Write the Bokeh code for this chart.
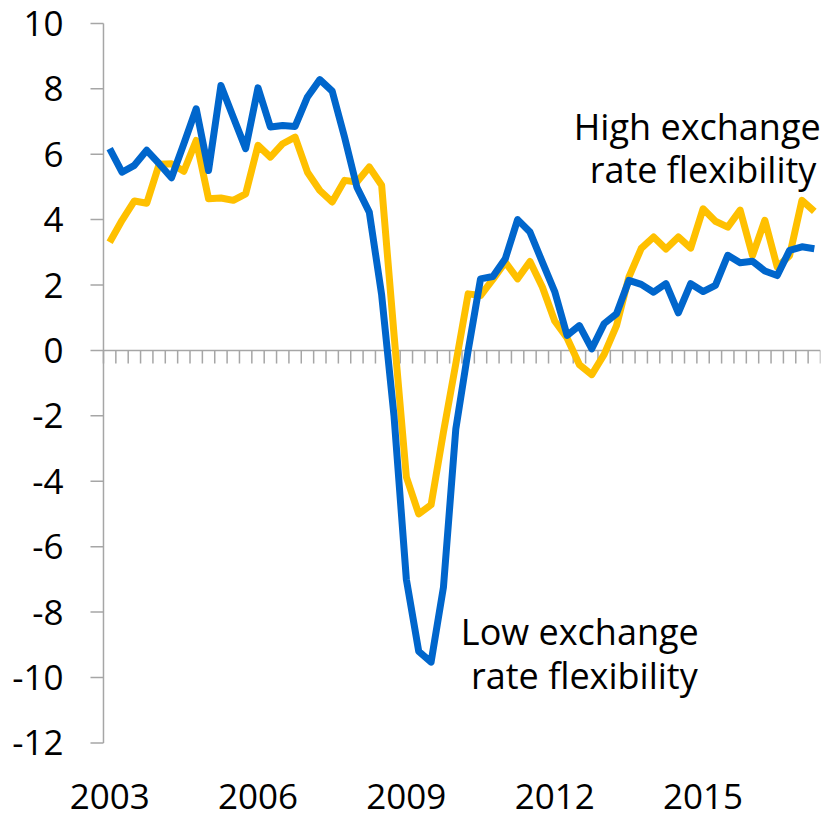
from bokeh.plotting import figure
from bokeh.models import Range1d, Label
from bokeh.core.properties import value
from bokeh.embed import file_html
from bokeh.resources import INLINE

# ---- data -------------------------------------------------------------
quarters = [f"{y}Q{q}" for y in range(2003, 2018) for q in range(1, 5)][:58]
year_labels = ["2003", "2006", "2009", "2012", "2015"]

low_flex = [6.17, 5.45, 5.66, 6.12, 5.71, 5.28, 6.32, 7.39, 5.50, 8.10,
            7.13, 6.17, 8.03, 6.83, 6.88, 6.85, 7.75, 8.28, 7.93, 6.52,
            4.99, 4.23, 1.70, -2.00, -7.00, -9.20, -9.53, -7.24, -2.40, 0.00,
            2.19, 2.26, 2.80, 4.00, 3.62, 2.70, 1.80, 0.46, 0.76, 0.05,
            0.82, 1.12, 2.14, 2.02, 1.78, 2.04, 1.15, 2.04, 1.80, 1.99,
            2.91, 2.68, 2.73, 2.43, 2.29, 3.06, 3.17, 3.11]

high_flex = [3.31, 3.98, 4.57, 4.50, 5.69, 5.71, 5.48, 6.42, 4.64, 4.66,
             4.59, 4.79, 6.27, 5.91, 6.32, 6.52, 5.45, 4.89, 4.54, 5.20,
             5.15, 5.61, 5.05, 0.50, -3.87, -5.00, -4.72, -2.50, -0.40, 1.73,
             1.68, 2.17, 2.70, 2.19, 2.72, 1.94, 0.90, 0.38, -0.44, -0.74,
             -0.12, 0.76, 2.24, 3.12, 3.47, 3.10, 3.47, 3.13, 4.33, 3.95,
             3.77, 4.29, 2.90, 3.98, 2.55, 2.90, 4.59, 4.25]

y_ticks = [-12, -10, -8, -6, -4, -2, 0, 2, 4, 6, 8, 10]

# ---- style / layout ---------------------------------------------------
FONT = "Open Sans"
BLUE = "#0066CC"
YELLOW = "#FFC000"
GREY = "#A6A6A6"
X_ROOM_LEFT = 8.33    # room left of the first quarter for the y-axis labels (x units)
Y_ROOM_TOP = 0.70     # room above the highest tick (y units)
Y_ROOM_BOTTOM = 2.22  # room below the lowest tick for the year labels (y units)
CAT_TICK = 0.4        # category tick length (y units)
VAL_TICK = 1.05       # value tick length (x units)

n = len(quarters)
xs = [i + 0.5 for i in range(n)]
y_min, y_max = min(y_ticks), max(y_ticks)

p = figure(width=825, height=815, output_backend="svg", toolbar_location=None,
           x_range=Range1d(-X_ROOM_LEFT, n),
           y_range=Range1d(y_min - Y_ROOM_BOTTOM, y_max + Y_ROOM_TOP),
           min_border_left=0, min_border_right=5, min_border_top=0,
           min_border_bottom=0)
p.outline_line_color = None
p.grid.visible = False
p.axis.visible = False
p.background_fill_color = "white"
p.border_fill_color = "white"

# value axis: line, ticks and labels
p.segment(x0=[0], y0=[y_min], x1=[0], y1=[y_max], line_color=GREY, line_width=1.5)
p.segment(x0=[0] * len(y_ticks), y0=y_ticks, x1=[-VAL_TICK] * len(y_ticks), y1=y_ticks,
          line_color=GREY, line_width=1.5)
p.text(x=[0] * len(y_ticks), y=y_ticks, text=[str(t) for t in y_ticks],
       text_align="right", text_baseline="middle", x_offset=-40,
       text_font=value(FONT), text_font_size="35px", text_color="black")

# category axis on the zero line, with quarterly ticks
p.segment(x0=[0], y0=[0], x1=[n], y1=[0], line_color=GREY, line_width=1.5)
bounds = list(range(n + 1))
p.segment(x0=bounds, y0=[0] * len(bounds), x1=bounds, y1=[-CAT_TICK] * len(bounds),
          line_color=GREY, line_width=1.5)

# series
p.line(xs, high_flex, line_color=YELLOW, line_width=7, line_join="round")
p.line(xs, low_flex, line_color=BLUE, line_width=7, line_join="round")

# year labels under the plot
year_pos = [quarters.index(f"{y}Q1") + 0.5 for y in year_labels]
p.text(x=year_pos, y=[y_min] * len(year_pos), text=year_labels,
       text_align="center", text_baseline="middle", y_offset=54,
       text_font=value(FONT), text_font_size="35px", text_color="black")

# annotations
for txt, x, y in [("High exchange", 48.03, 6.84), ("rate flexibility", 48.5, 5.52),
                  ("Low exchange", 38.53, -8.59), ("rate flexibility", 38.9, -9.95)]:
    p.add_layout(Label(x=x, y=y, text=txt, text_align="center", text_baseline="middle",
                       text_font=FONT, text_font_size="36px", text_color="black"))

open("out.html", "w").write(file_html(p, INLINE))
